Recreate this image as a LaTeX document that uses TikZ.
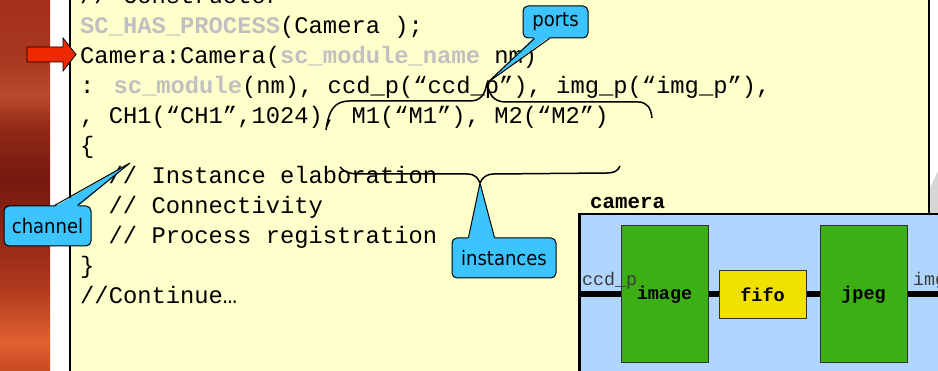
\documentclass[tikz,border=0pt]{standalone}
\usepackage{fontspec}
\usetikzlibrary{calc}
\newfontfamily\codefont{Liberation Mono}
\newfontfamily\callfont[FakeStretch=0.9]{DejaVu Sans}
\definecolor{codebg}{RGB}{255,255,204}
\definecolor{kwgray}{RGB}{192,192,192}
\definecolor{callcyan}{RGB}{60,196,255}
\definecolor{arrowred}{RGB}{240,40,0}
\definecolor{camblue}{RGB}{176,214,255}
\definecolor{blockgreen}{RGB}{59,175,20}
\definecolor{fifoyellow}{RGB}{240,225,0}
\definecolor{portgray}{RGB}{60,60,60}
\definecolor{shadowgray}{RGB}{214,214,214}
\definecolor{rsA}{RGB}{200,74,34}
\definecolor{rsB}{RGB}{224,96,48}
\definecolor{rsC}{RGB}{176,58,30}
\definecolor{rsD}{RGB}{144,36,20}
\definecolor{rsE}{RGB}{118,26,16}
\definecolor{rsF}{RGB}{144,40,22}
\definecolor{rsG}{RGB}{184,74,44}
\definecolor{rsH}{RGB}{168,56,32}
\definecolor{rsI}{RGB}{164,48,28}
\pgfdeclareverticalshading{redstrip}{100bp}{color(0bp)=(rsA); color(25bp)=(rsA); color(29bp)=(rsB); color(36bp)=(rsC); color(44bp)=(rsD); color(51bp)=(rsE); color(57.5bp)=(rsF); color(62bp)=(rsG); color(67bp)=(rsH); color(75bp)=(rsI); color(100bp)=(rsI)}
\newcommand\kwd[1]{{\color{kwgray}\bfseries #1}}
\tikzset{
  code/.style={anchor=base west, inner sep=0pt, text=black, font=\codefont\fontsize{23.8}{30}\selectfont},
  bracepath/.style={draw=black, line width=1.5pt},
  callbox/.style={draw=black, line width=1pt, fill=callcyan, rounded corners=5pt, inner sep=0pt, text=black, font=\callfont\fontsize{20}{24}\selectfont},
  ptredge/.style={draw=black, line width=1pt, line join=miter},
  block/.style={draw=black!80, line width=1pt, fill=blockgreen, minimum width=87pt, minimum height=137pt, inner sep=0pt, font=\codefont\bfseries\fontsize{18.5}{20}\selectfont},
  wire/.style={draw=black, line width=6pt},
  portlabel/.style={anchor=base west, inner sep=0pt, text=portgray, font=\codefont\fontsize{18.3}{20}\selectfont}
}
\begin{document}
\begin{tikzpicture}[x=1pt,y=-1pt]
\useasboundingbox (0,0) rectangle (938,371);
\clip (0,0) rectangle (938,371);
\fill[white] (0,0) rectangle (938,371);
% textured left strip
\shade[shading=redstrip] (0,0) rectangle (50,371);
% shadow on the right
\fill[shadowgray] (938,171) -- (938,214) -- (929,214) -- (929,190) -- cycle;
% code sheet
\filldraw[fill=codebg, draw=black, line width=2.5pt] (70,-10) rectangle (929,400);
% red arrow
\filldraw[fill=arrowred, draw=black, line width=0.8pt] (27,47) -- (63,47) -- (63,38) -- (76,54.5) -- (63,71) -- (63,62) -- (27,62) -- cycle;
% code lines
\node[code] (l0) at (80,4) {// Constructor};
\node[code] (l1) at (80,34) {\kwd{SC\_HAS\_PROCESS}(Camera );};
\node[code] (l2) at (80,64) {Camera:Camera(\kwd{sc\_module\_name} nm)};
\node[code] (l3) at (80,94) {: \kwd{sc\_module}(nm), ccd\_p(“ccd\_p”), img\_p(“img\_p”),};
\node[code] (l4) at (80,124) {, CH1(“CH1”,1024), M1(“M1”), M2(“M2”)};
\node[code] (l5) at (80,154) {\{};
\node[code] (l6) at (108.5,184) {// Instance elaboration};
\node[code] (l7) at (108.5,214) {// Connectivity};
\node[code] (l8) at (108.5,244) {// Process registration};
\node[code] (l9) at (80,274) {\}};
\node[code] (l10) at (80,304) {//Continue…};
% brace tips and pointer ends
\coordinate (portstip) at (487,83);
\coordinate (insttip) at (480,183);
\coordinate (chantip) at (130,163);
% ports brace
\draw[bracepath] (326,130) .. controls (329,110) and (334,101) .. (350,101) -- (470,101) .. controls (481,101) and (485,94) .. (portstip);
\draw[bracepath] (portstip) .. controls (489,94) and (493,102) .. (506,102) -- (638,102) .. controls (647,102) and (651,108) .. (652,118);
% instances brace
\draw[bracepath] (340,167) .. controls (344,172) and (350,174) .. (360,174) -- (467,174) .. controls (475,174) and (478,178) .. (insttip);
\draw[bracepath] (insttip) .. controls (482,178) and (486,174) .. (494,174) -- (607,173) .. controls (614,173) and (618,171) .. (620,166);
% callouts
\node[callbox, minimum width=65pt, minimum height=32pt] (ports) at (555.5,22) {ports};
\fill[callcyan] ($(ports.south west)+(12,-1.5)$) -- (portstip) -- ($(ports.south west)+(27,-1.5)$) -- cycle;
\draw[ptredge] ($(ports.south west)+(12,0)$) -- (portstip) -- ($(ports.south west)+(27,0)$);
\node[callbox, minimum width=87pt, minimum height=40pt] (channel) at (47.5,226) {channel};
\fill[callcyan] ($(channel.north west)+(51,1.5)$) -- (chantip) -- ($(channel.north west)+(74,1.5)$) -- cycle;
\draw[ptredge] ($(channel.north west)+(51,0)$) -- (chantip) -- ($(channel.north west)+(74,0)$);
\node[callbox, minimum width=104pt, minimum height=40pt] (instances) at (504,258) {instances};
\fill[callcyan] ($(instances.north west)+(17,1.5)$) -- (insttip) -- ($(instances.north west)+(43,1.5)$) -- cycle;
\draw[ptredge] ($(instances.north west)+(17,0)$) -- (insttip) -- ($(instances.north west)+(43,0)$);
% camera module
\node[draw=black, line width=2.5pt, fill=camblue, minimum width=420pt, minimum height=220pt, inner sep=0pt, anchor=north west] (camera) at (578,213) {};
\node[anchor=base west, inner sep=0pt, font=\codefont\bfseries\fontsize{20.8}{22}\selectfont] (camlabel) at (590,209) {camera};
\node[block] (image) at (664.5,294.5) {image};
\node[block, fill=fifoyellow, minimum height=48pt] (fifo) at (762.5,294.5) {fifo};
\node[block] (jpeg) at (863.5,294.5) {jpeg};
\coordinate (pin) at (578,294.5);
\coordinate (pout) at (960,294.5);
\draw[wire] (pin) -- (image);
\draw[wire] (image) -- (fifo);
\draw[wire] (fifo) -- (jpeg);
\draw[wire] (jpeg) -- (pout);
\node[portlabel] (ccdp) at (582,286) {ccd\_p};
\node[portlabel] (imgp) at (913,286) {img\_p};
\end{tikzpicture}
\end{document}
